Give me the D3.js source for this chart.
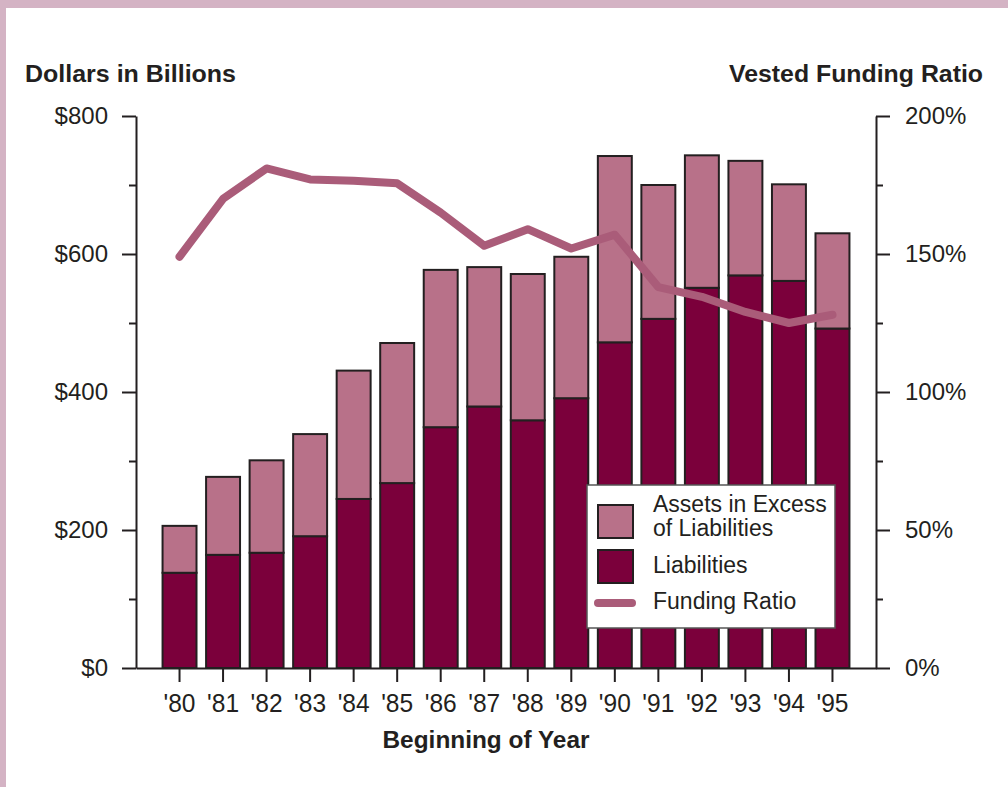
<!DOCTYPE html>
<html><head><meta charset="utf-8">
<script src="https://cdn.jsdelivr.net/npm/d3@7"></script>
<style>
body{margin:0;background:#fff;}
svg{display:block;font-family:"Liberation Sans",Arial,Helvetica,sans-serif;}
</style></head><body>
<svg id="chart" width="1008" height="787"></svg>
<script>
// ---- data ----
const years = ["'80","'81","'82","'83","'84","'85","'86","'87","'88","'89","'90","'91","'92","'93","'94","'95"];
const liabilities = [138,164,167,191,245,268,349,379,359,391,472,506,551,569,561,492];
const totalAssets = [206,277,301,339,431,471,577,581,571,596,742,700,743,735,701,630];
const fundingRatio = [149,170,181,177,176.5,175.6,165,153,159,152,157,138,134.5,129,125,128];
const dollarTicks = [0,200,400,600,800];
const dollarMinor = [100,300,500,700];
const ratioTicks = [0,50,100,150,200];
const ratioMinor = [25,75,125,175];
const legendItems = [
  {key:"excess", lines:["Assets in Excess","of Liabilities"]},
  {key:"liab", lines:["Liabilities"]},
  {key:"ratio", lines:["Funding Ratio"]}
];

// ---- styles ----
const C = {ink:"#231f20", dark:"#7b003b", light:"#b87189", line:"#aa5c79", frame:"#d4b3c4"};

const svg = d3.select("#chart");
const W = 1008, H = 787;
const m = {left:136, right:876, top:116, bottom:668};

// page frame
svg.append("rect").attr("x",0).attr("y",0).attr("width",W).attr("height",H).attr("fill","#fff");
svg.append("rect").attr("x",0).attr("y",0).attr("width",W).attr("height",8).attr("fill",C.frame);
svg.append("rect").attr("x",0).attr("y",0).attr("width",6).attr("height",H).attr("fill",C.frame);

const x = d3.scaleBand().domain(years).range([m.left,m.right]).paddingInner(0.22).paddingOuter(0.61);
const y = d3.scaleLinear().domain([0,800]).range([m.bottom,m.top]);
const y2 = d3.scaleLinear().domain([0,200]).range([m.bottom,m.top]);

const rows = years.map((yr,i)=>({year:yr, liab:liabilities[i], excess:totalAssets[i]-liabilities[i]}));
const stack = d3.stack().keys(["liab","excess"])(rows);
const fills = {liab:C.dark, excess:C.light};

svg.append("g").selectAll("g").data(stack).join("g")
  .attr("fill",d=>fills[d.key])
  .selectAll("rect").data(d=>d).join("rect")
  .attr("x",d=>x(d.data.year))
  .attr("width",x.bandwidth())
  .attr("y",d=>y(d[1]))
  .attr("height",d=>y(d[0])-y(d[1]))
  .attr("stroke",C.ink).attr("stroke-width",2);

// axes
function styleAxis(g){
  g.selectAll("path,line").attr("stroke",C.ink).attr("stroke-width",2);
  g.selectAll("text").attr("fill",C.ink).attr("font-size",24).attr("font-family",'"Liberation Sans",Arial,sans-serif');
}
svg.append("g").attr("transform",`translate(${m.left},0)`)
  .call(d3.axisLeft(y).tickValues(dollarTicks).tickSize(14).tickSizeOuter(0).tickPadding(14).tickFormat(d=>"$"+d))
  .call(styleAxis);
svg.append("g").attr("transform",`translate(${m.left},0)`)
  .call(d3.axisLeft(y).tickValues(dollarMinor).tickSize(7).tickFormat(""))
  .call(g=>g.select(".domain").remove()).call(styleAxis);
svg.append("g").attr("transform",`translate(${m.right},0)`)
  .call(d3.axisRight(y2).tickValues(ratioTicks).tickSize(14).tickSizeOuter(0).tickPadding(15).tickFormat(d=>d+"%"))
  .call(styleAxis);
svg.append("g").attr("transform",`translate(${m.right},0)`)
  .call(d3.axisRight(y2).tickValues(ratioMinor).tickSize(7).tickFormat(""))
  .call(g=>g.select(".domain").remove()).call(styleAxis);
svg.append("g").attr("transform",`translate(0,${m.bottom})`)
  .call(d3.axisBottom(x).tickSize(14).tickSizeOuter(0).tickPadding(12))
  .call(styleAxis)
  .call(g=>g.selectAll("text").attr("font-size",25).attr("textLength",32).attr("lengthAdjust","spacingAndGlyphs"));

// funding ratio line
const line = d3.line().x((d,i)=>x(years[i])+x.bandwidth()/2).y(d=>y2(d));
svg.append("path").datum(fundingRatio).attr("d",line)
  .attr("fill","none").attr("stroke",C.line).attr("stroke-width",8)
  .attr("stroke-linecap","round").attr("stroke-linejoin","round");

// titles
const titleStyle = t=>t.attr("fill",C.ink).attr("font-weight","bold").attr("font-size",23).attr("lengthAdjust","spacingAndGlyphs");
svg.append("text").attr("x",25).attr("y",82).text("Dollars in Billions").attr("textLength",211).call(titleStyle);
svg.append("text").attr("x",983).attr("y",82).attr("text-anchor","end").text("Vested Funding Ratio").attr("textLength",254).call(titleStyle);
svg.append("text").attr("x",486).attr("y",748).attr("text-anchor","middle").text("Beginning of Year").attr("textLength",207).call(titleStyle);

// legend
const lg = svg.append("g").attr("transform","translate(587,485)");
lg.append("rect").attr("width",248).attr("height",143).attr("fill","#fff").attr("stroke","#555").attr("stroke-width",1.5);
const rowY = [37, 82, 118];
legendItems.forEach((it,i)=>{
  const g = lg.append("g").attr("transform",`translate(0,${rowY[i]})`);
  if(it.key==="ratio"){
    g.append("line").attr("x1",11).attr("x2",45).attr("y1",0).attr("y2",0)
      .attr("stroke",C.line).attr("stroke-width",8).attr("stroke-linecap","round");
  } else {
    g.append("rect").attr("x",11).attr("y",-17).attr("width",35).attr("height",33)
      .attr("fill",fills[it.key]).attr("stroke",C.ink).attr("stroke-width",2);
  }
  const t = g.append("text").attr("x",66).attr("fill",C.ink).attr("font-size",23);
  const off = it.lines.length>1 ? -10 : 6;
  it.lines.forEach((s,j)=>t.append("tspan").attr("x",66).attr("y",off + j*24).text(s));
});
</script>
</body></html>
